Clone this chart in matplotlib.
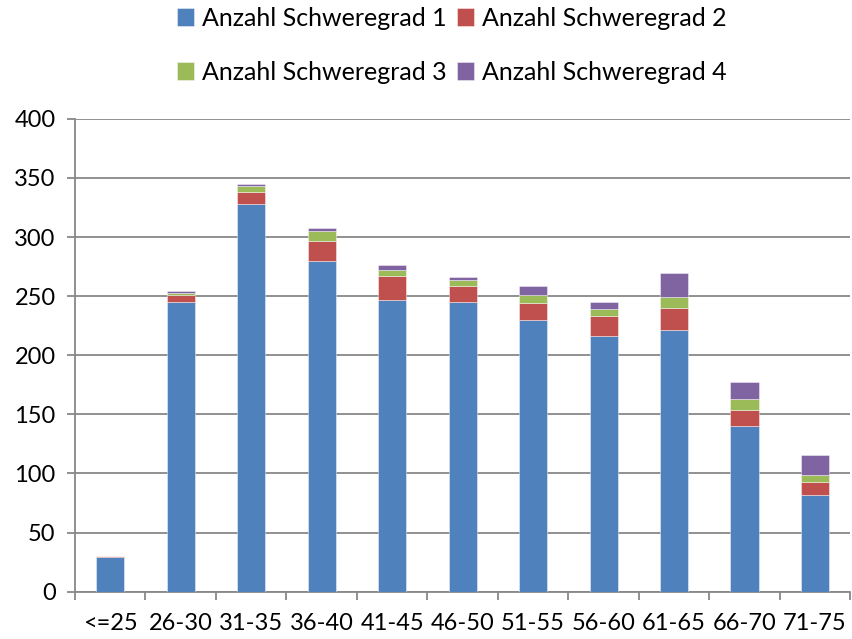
import numpy as np
import matplotlib
matplotlib.use('Agg')
import matplotlib.pyplot as plt

# Altersgruppen und Anzahl je Schweregrad
kategorien = ['<=25', '26-30', '31-35', '36-40', '41-45', '46-50',
              '51-55', '56-60', '61-65', '66-70', '71-75']
schwere_1 = [29, 245, 328, 280, 247, 245, 230, 216, 221, 140, 82]
schwere_2 = [1, 6, 10, 17, 20, 14, 14, 17, 19, 14, 11]
schwere_3 = [0, 1.5, 5, 8, 5, 5, 7, 6, 9, 9, 6]
schwere_4 = [0, 1.5, 2, 3, 4, 2, 8, 6, 21, 14, 17]

namen = ['Anzahl Schweregrad 1', 'Anzahl Schweregrad 2',
         'Anzahl Schweregrad 3', 'Anzahl Schweregrad 4']
farben = ['#4F81BD', '#C0504D', '#9BBB59', '#8064A2']

plt.rcParams['font.family'] = ['Lato', 'DejaVu Sans']

fig = plt.figure(figsize=(8.52, 6.39), dpi=100)
ax = fig.add_axes([0.088, 0.074, 0.91, 0.74])

x = np.arange(len(kategorien))
unten = np.zeros(len(kategorien))
handles = []
for werte, name, farbe in zip([schwere_1, schwere_2, schwere_3, schwere_4], namen, farben):
    b = ax.bar(x, werte, 0.4, bottom=unten, color=farbe, label=name,
               edgecolor=(1, 1, 1, 0.5), linewidth=0.6, zorder=3)
    handles.append(b)
    unten += np.array(werte)

ax.set_ylim(0, 400)
ax.set_xlim(-0.5, len(kategorien) - 0.5)
ax.set_yticks(np.arange(0, 401, 50))
ax.yaxis.grid(True, color='#888888', linewidth=1.3, zorder=0)

ax.set_xticks(x)
ax.set_xticklabels(kategorien)
ax.set_xticks(np.arange(-0.5, len(kategorien), 1), minor=True)
ax.tick_params(axis='x', which='major', length=0, pad=15, labelsize=17)
ax.tick_params(axis='x', which='minor', length=6, width=1.3, color='#888888')
ax.tick_params(axis='y', length=6, width=1.3, color='#888888', labelsize=17, pad=8)

for s in ['top', 'right']:
    ax.spines[s].set_visible(False)
for s in ['left', 'bottom']:
    ax.spines[s].set_color('#888888')
    ax.spines[s].set_linewidth(1.3)

# Reihenfolge so, dass Zeile 1 = 1, 2 und Zeile 2 = 3, 4
reihe = [0, 2, 1, 3]
fig.legend(handles=[handles[i] for i in reihe], labels=[namen[i] for i in reihe],
           ncol=2, loc='upper center',
           bbox_to_anchor=(0.53, 1.025), frameon=False, fontsize=18,
           handlelength=0.7, handleheight=0.7, handletextpad=0.3,
           columnspacing=0.4, labelspacing=1.25)

fig.savefig('out.png', dpi=100)
